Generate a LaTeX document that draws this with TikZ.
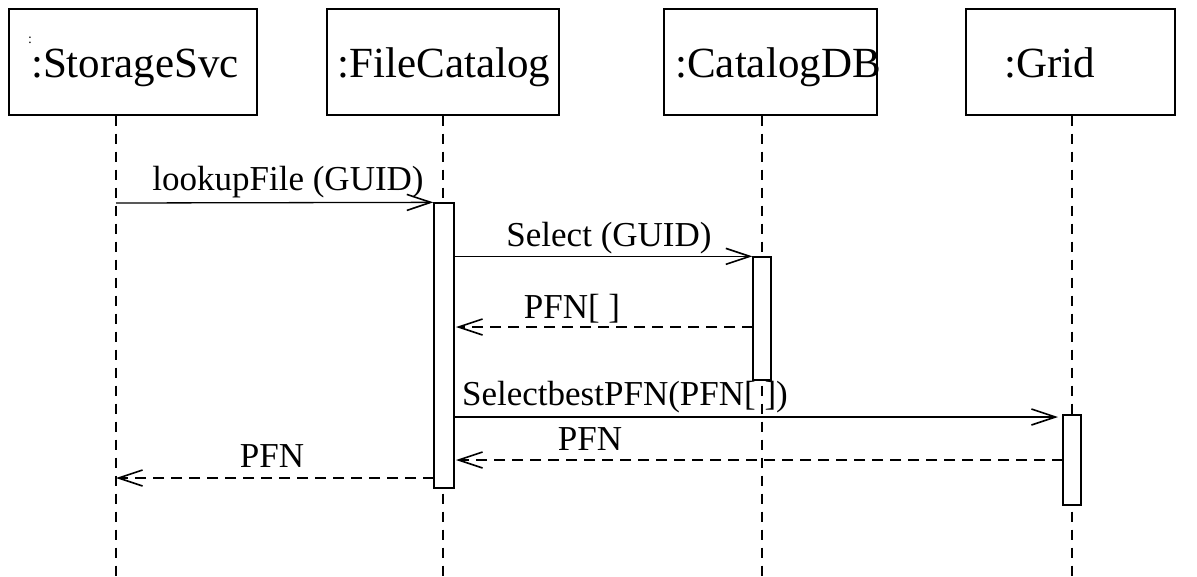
\documentclass[tikz,border=0pt]{standalone}
\usepackage{fontspec}
\setmainfont{Liberation Serif}
\usetikzlibrary{arrows.meta}
\begin{document}
\begin{tikzpicture}[x=1pt,y=-1pt,line width=1.3pt,
  objbox/.style={draw,rectangle,inner sep=0pt},
  objtext/.style={anchor=base,inner sep=0pt,font=\fontsize{43}{50}\selectfont},
  msgtext/.style={anchor=base,inner sep=0pt,font=\fontsize{35}{42}\selectfont},
  lifeline/.style={dash pattern=on 10pt off 8pt},
  actbox/.style={draw,fill=white,rectangle,inner sep=0pt},
  call/.style={-{Straight Barb[length=24pt,width=16pt,line width=1.6pt]}},
  reply/.style={dash pattern=on 11pt off 7pt,-{Straight Barb[length=24pt,width=16pt,line width=1.6pt]}}]
\useasboundingbox[fill=white] (0,0) rectangle (1197,576);
% object boxes
\node[objbox,minimum width=248pt,minimum height=106pt] (ss) at (133,62) {};
\node[objbox,minimum width=232pt,minimum height=106pt] (fc) at (443,62) {};
\node[objbox,minimum width=213pt,minimum height=106pt] (cd) at (770.5,62) {};
\node[objbox,minimum width=209pt,minimum height=106pt] (gr) at (1070.5,62) {};
\node[objtext] (sst) at (135,77) {:StorageSvc};
\node[anchor=base,inner sep=0pt,font=\fontsize{14}{16}\selectfont] (dot) at (30,43) {:};
\node[objtext] (fct) at (444,77) {:FileCatalog};
\node[objtext] (cdt) at (778,77) {:CatalogDB};
\node[objtext] (grt) at (1050,77) {:Grid};
% lifeline ends
\coordinate (ssb) at (116,576);
\coordinate (fcb) at (443,576);
\coordinate (cdb) at (762,576);
\coordinate (grb) at (1072,576);
\draw[lifeline] (ss.south -| ssb) -- (ssb);
\draw[lifeline] (fc.south -| fcb) -- (fcb);
\draw[lifeline] (cd.south -| cdb) -- (cdb);
\draw[lifeline] (gr.south -| grb) -- (grb);
% activation boxes
\node[actbox,minimum width=20pt,minimum height=285pt] (fca) at (444,345.5) {};
\node[actbox,minimum width=18pt,minimum height=123pt] (cda) at (762,318.5) {};
\node[actbox,minimum width=18pt,minimum height=90pt] (gra) at (1072,460) {};
% messages
\coordinate (m1s) at (116,203);
\draw[call] (m1s) -- (fca.north west);
\node[msgtext] (m1t) at (288,190) {lookupFile (GUID)};
\draw[call] (fca.east |- cda.north west) -- (cda.north west);
\node[msgtext] (m2t) at (609,246) {Select (GUID)};
\coordinate (r1) at (753,327);
\coordinate (r1e) at (456,327);
\draw[reply] (r1) -- (r1e);
\node[msgtext] (r1t) at (572,318) {PFN[ ]};
\coordinate (m3s) at (454,417);
\coordinate (m3e) at (1058,417);
\draw[call] (m3s) -- (m3e);
\node[msgtext] (m3t) at (625,405) {SelectbestPFN(PFN[ ])};
\coordinate (r2) at (1063,460);
\coordinate (r2e) at (456,460);
\draw[reply] (r2) -- (r2e);
\node[msgtext] (r2t) at (590,450) {PFN};
\coordinate (r3) at (434,478);
\coordinate (r3e) at (116,478);
\draw[reply] (r3) -- (r3e);
\node[msgtext] (r3t) at (272,467) {PFN};
\end{tikzpicture}
\end{document}
